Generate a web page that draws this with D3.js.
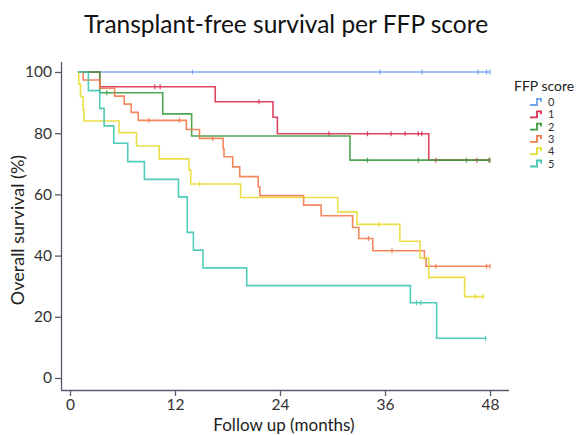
<!DOCTYPE html>
<html>
<head>
<meta charset="utf-8">
<script src="https://cdn.jsdelivr.net/npm/d3@7"></script>
<style>
  body { margin: 0; background: #fff; }
  svg { display: block; font-family: Lato, "Open Sans", sans-serif; }
</style>
</head>
<body>
<svg width="582" height="435"></svg>
<script>
// step points: time (months) and survival (%)
const scores = ['0', '1', '2', '3', '4', '5'];
const colors = ['#6fa3ea', '#d8304f', '#3f9b3f', '#f27a4b', '#e8dc34', '#3fc7b2'];

const time0 = [0.9];
const surv0 = [100];
const cens0 = [14, 35.4, 40.2, 46.6, 47.6, 48];

const time1 = [0.9, 3.4, 16.6, 23.2, 23.7, 41];
const surv1 = [100, 95.2, 90.3, 85.2, 79.8, 71.2];
const cens1 = [9.7, 10.3, 21.6, 29.6, 34, 36.7, 38.3, 39.8, 40.2, 41.8, 46.5, 47.9];

const time2 = [0.9, 3.4, 10.6, 13.9, 32];
const surv2 = [100, 93.2, 86.3, 79.1, 71.2];
const cens2 = [4.2, 34, 39.8, 45.3, 48];

const time3 = [0.9, 1.5, 3.4, 5.1, 6.2, 7.0, 7.8, 13.3, 14.8, 17.5, 17.6, 18.6, 19.4, 21.5, 21.7, 26.7, 28.7, 32.3, 33, 34.6, 40.5, 40.7];
const surv3 = [100, 97.4, 94.7, 92.1, 89.5, 86.8, 84.2, 81.2, 78.3, 75, 72.3, 69, 65.8, 62.5, 59.6, 56.5, 53, 49.2, 45.6, 41.6, 39.1, 36.5];
const cens3 = [9, 12.5, 16.3, 34.1, 36.8, 41.8, 47.6, 48];

const time4 = [0.9, 1.0, 1.2, 1.5, 1.6, 5.6, 7.6, 10.2, 13.6, 13.8, 19.5, 30.6, 32.8, 37.7, 40, 41, 45.1];
const surv4 = [100, 96, 92, 87.8, 84, 80.2, 75.8, 71.6, 68, 63.4, 59, 54.3, 50.2, 44.7, 39.2, 32.9, 26.6];
const cens4 = [14.8, 35.3, 46.3, 47.2];

const time5 = [0.9, 2.1, 3.4, 3.9, 5.0, 6.6, 8.5, 12.4, 13.4, 14.1, 15.2, 20.2, 38.9, 41.9];
const surv5 = [100, 93.9, 88.1, 82.4, 76.7, 70.7, 64.9, 59.2, 47.6, 41.8, 36, 30.2, 24.6, 13];
const cens5 = [39.6, 40.1, 47.5];

const ends = [48, 48, 48, 48, 47.3, 47.5];
const xTicks = [0, 12, 24, 36, 48];
const yTicks = [0, 20, 40, 60, 80, 100];

const curves = [
  {t: time0, s: surv0, c: cens0},
  {t: time1, s: surv1, c: cens1},
  {t: time2, s: surv2, c: cens2},
  {t: time3, s: surv3, c: cens3},
  {t: time4, s: surv4, c: cens4},
  {t: time5, s: surv5, c: cens5},
];

const svg = d3.select('svg');
const x = d3.scaleLinear().domain([0, 48]).range([70, 490]);
const y = d3.scaleLinear().domain([0, 100]).range([378, 72]);
const axisColor = '#555b68';

// title
svg.append('text')
  .attr('x', 286).attr('y', 33)
  .attr('text-anchor', 'middle')
  .attr('font-size', 24.5)
  .attr('fill', '#111')
  .text('Transplant-free survival per FFP score');

// axes
const xAxis = svg.append('g')
  .attr('transform', 'translate(0, 390)')
  .call(d3.axisBottom(x).tickValues(xTicks).tickSize(6).tickSizeOuter(0));
xAxis.select('.domain').attr('d', 'M61,0.5H509');
const yAxis = svg.append('g')
  .attr('transform', 'translate(61, 0)')
  .call(d3.axisLeft(y).tickValues(yTicks).tickSize(6).tickSizeOuter(0));
yAxis.select('.domain').attr('d', 'M0.5,62V390');
svg.selectAll('.domain, .tick line').attr('stroke', axisColor).attr('stroke-width', 1.3);
svg.selectAll('.tick text')
  .attr('font-family', 'Lato, sans-serif')
  .attr('font-size', 15.5)
  .attr('fill', '#333');
xAxis.selectAll('.tick text').attr('y', 8.5);
yAxis.selectAll('.tick text').attr('x', -9);

svg.append('text')
  .attr('x', 284).attr('y', 431)
  .attr('text-anchor', 'middle')
  .attr('font-size', 17).attr('fill', '#222')
  .text('Follow up (months)');
svg.append('text')
  .attr('transform', 'translate(24, 230) rotate(-90)')
  .attr('text-anchor', 'middle')
  .attr('font-size', 18).attr('fill', '#222')
  .text('Overall survival (%)');

// curves
const line = d3.line()
  .x(d => x(d[0])).y(d => y(d[1]))
  .curve(d3.curveStepAfter);

function survAt(cv, t) {
  let v = cv.s[0];
  cv.t.forEach((ti, i) => { if (ti <= t) v = cv.s[i]; });
  return v;
}

const plot = svg.append('g');
curves.forEach((cv, k) => {
  const pts = cv.t.map((t, i) => [t, cv.s[i]]);
  pts.push([ends[k], cv.s[cv.s.length - 1]]);
  const g = plot.append('g')
    .attr('stroke', colors[k])
    .attr('stroke-opacity', 0.9)
    .attr('fill', 'none');
  g.append('path')
    .attr('d', line(pts))
    .attr('stroke-width', 1.6);
  g.selectAll('line')
    .data(cv.c)
    .join('line')
    .attr('x1', d => x(d)).attr('x2', d => x(d))
    .attr('y1', d => y(survAt(cv, d)) - 2.5)
    .attr('y2', d => y(survAt(cv, d)) + 2.5)
    .attr('stroke-width', 1.2);
});

// legend
const legend = svg.append('g').attr('transform', 'translate(514, 0)');
legend.append('text')
  .attr('x', 0).attr('y', 91)
  .attr('font-size', 14).attr('fill', '#222')
  .text('FFP score');
const items = legend.selectAll('g.item')
  .data(scores)
  .join('g')
  .attr('class', 'item')
  .attr('transform', (d, i) => 'translate(0, ' + (102 + i * 12.3) + ')');
items.append('path')
  .attr('d', 'M16,3H23V-3H27V0')
  .attr('fill', 'none')
  .attr('stroke', (d, i) => colors[i])
  .attr('stroke-width', 1.8);
items.append('text')
  .attr('x', 34).attr('y', 4)
  .attr('font-size', 11).attr('fill', '#333')
  .text(d => d);
</script>
</body>
</html>
